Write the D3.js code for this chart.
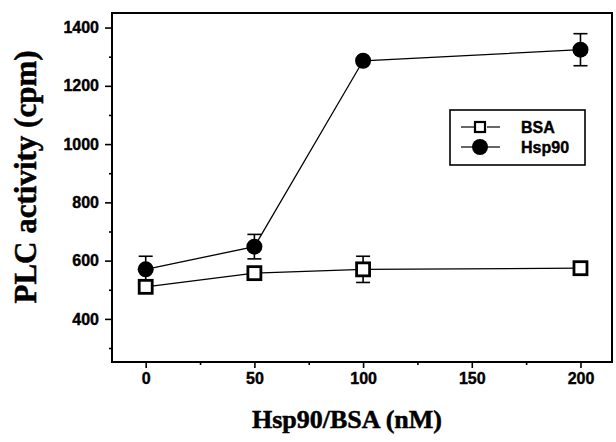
<!DOCTYPE html>
<html>
<head>
<meta charset="utf-8">
<script src="https://cdn.jsdelivr.net/npm/d3@7"></script>
<style>
  body { margin: 0; background: #fff; }
  svg { display: block; }
</style>
</head>
<body>
<svg id="chart" width="616" height="442"></svg>
<script>
const width = 616;
const height = 442;
const margin = { top: 13, right: 4, bottom: 80, left: 112 };

// data
const doses = [0, 50, 100, 200];
const bsaValues = [510, 557, 570, 574];
const bsaErrors = [15, 15, 45, 15];
const hspValues = [570, 648, 1286, 1324];
const hspErrors = [45, 42, 0, 55];
const xTicks = [0, 50, 100, 150, 200];
const xMinorTicks = [25, 75, 125, 175];
const yTicks = [400, 600, 800, 1000, 1200, 1400];
const yMinorTicks = [300, 500, 700, 900, 1100, 1300];
const seriesNames = ["BSA", "Hsp90"];

const sansFont = "'Liberation Sans', Arial, sans-serif";
const serifFont = "'Liberation Serif', 'Times New Roman', serif";

const svg = d3.select("#chart");
const chartWidth = width - margin.left - margin.right;
const chartHeight = height - margin.top - margin.bottom;
const g = svg.append("g").attr("transform", `translate(${margin.left},${margin.top})`);

const x = d3.scaleLinear().domain([-15.5, 214.5]).range([0, chartWidth]);
const y = d3.scaleLinear().domain([252, 1450]).range([chartHeight, 0]);

// axes
const xAxis = g.append("g")
  .attr("transform", `translate(0,${chartHeight})`)
  .call(d3.axisBottom(x).tickValues(xTicks).tickFormat(d3.format("d")).tickSize(6).tickPadding(5));
const xMinor = g.append("g")
  .attr("transform", `translate(0,${chartHeight})`)
  .call(d3.axisBottom(x).tickValues(xMinorTicks).tickSize(3).tickFormat(""));
const yAxis = g.append("g")
  .call(d3.axisLeft(y).tickValues(yTicks).tickFormat(d3.format("d")).tickSize(7).tickPadding(6));
const yMinor = g.append("g")
  .call(d3.axisLeft(y).tickValues(yMinorTicks).tickSize(3).tickFormat(""));

[xAxis, xMinor, yAxis, yMinor].forEach(a => {
  a.select(".domain").remove();
  a.selectAll("line").attr("stroke", "#000").attr("stroke-width", 1.6);
  a.attr("font-family", sansFont).attr("font-size", 16).attr("font-weight", "bold");
  a.selectAll("text").attr("fill", "#000").attr("stroke", "#000").attr("stroke-width", 0.4);
});

// frame
g.append("rect")
  .attr("width", chartWidth).attr("height", chartHeight)
  .attr("fill", "none").attr("stroke", "#000").attr("stroke-width", 2);

// series
const bsa = doses.map((d, i) => ({ x: d, v: bsaValues[i], e: bsaErrors[i] }));
const hsp = doses.map((d, i) => ({ x: d, v: hspValues[i], e: hspErrors[i] }));

const line = d3.line().x(d => x(d.x)).y(d => y(d.v));

[bsa, hsp].forEach(s => {
  g.append("path").datum(s)
    .attr("d", line)
    .attr("fill", "none").attr("stroke", "#000").attr("stroke-width", 1.3);
});

function errorBars(s) {
  const eb = g.append("g").selectAll("g").data(s.filter(d => d.e > 0)).enter().append("g")
    .attr("stroke", "#000").attr("stroke-width", 1.6);
  eb.append("line")
    .attr("x1", d => x(d.x)).attr("x2", d => x(d.x))
    .attr("y1", d => y(d.v + d.e)).attr("y2", d => y(d.v - d.e));
  eb.append("line")
    .attr("x1", d => x(d.x) - 7).attr("x2", d => x(d.x) + 7)
    .attr("y1", d => y(d.v + d.e)).attr("y2", d => y(d.v + d.e));
  eb.append("line")
    .attr("x1", d => x(d.x) - 7).attr("x2", d => x(d.x) + 7)
    .attr("y1", d => y(d.v - d.e)).attr("y2", d => y(d.v - d.e));
}
errorBars(hsp);
errorBars(bsa);

g.selectAll("rect.bsa").data(bsa).enter().append("rect")
  .attr("class", "bsa")
  .attr("x", d => x(d.x) - 6.5).attr("y", d => y(d.v) - 6.5)
  .attr("width", 13).attr("height", 13)
  .attr("fill", "#fff").attr("stroke", "#000").attr("stroke-width", 2.8);

g.selectAll("circle.hsp").data(hsp).enter().append("circle")
  .attr("class", "hsp")
  .attr("cx", d => x(d.x)).attr("cy", d => y(d.v))
  .attr("r", 8).attr("fill", "#000");

// legend
const legend = svg.append("g").attr("transform", "translate(450,110)");
legend.append("rect")
  .attr("width", 135).attr("height", 55)
  .attr("fill", "#fff").attr("stroke", "#000").attr("stroke-width", 1.6);
const items = legend.selectAll("g.item").data(seriesNames).enter().append("g")
  .attr("class", "item")
  .attr("transform", (d, i) => `translate(0,${17 + i * 20})`);
items.append("line").attr("x1", 11).attr("x2", 24).attr("stroke", "#000").attr("stroke-width", 1.2);
items.append("line").attr("x1", 37).attr("x2", 50).attr("stroke", "#000").attr("stroke-width", 1.2);
items.filter(d => d === "BSA").append("rect")
  .attr("x", 25).attr("y", -5).attr("width", 10).attr("height", 10)
  .attr("fill", "#fff").attr("stroke", "#000").attr("stroke-width", 2.2);
items.filter(d => d === "Hsp90").append("circle")
  .attr("cx", 30).attr("r", 8).attr("fill", "#000");
items.append("text")
  .attr("font-family", sansFont).attr("font-size", 16).attr("font-weight", "bold")
  .attr("stroke", "#000").attr("stroke-width", 0.4)
  .attr("x", 71).attr("dy", "0.35em")
  .text(d => d);

// axis titles
svg.append("text")
  .attr("font-family", serifFont).attr("font-weight", "bold")
  .attr("font-size", 26)
  .attr("stroke", "#000").attr("stroke-width", 0.5)
  .attr("text-anchor", "middle")
  .attr("x", 347).attr("y", 428)
  .text("Hsp90/BSA (nM)");

svg.append("text")
  .attr("font-family", serifFont).attr("font-weight", "bold")
  .attr("font-size", 31)
  .attr("stroke", "#000").attr("stroke-width", 0.5)
  .attr("text-anchor", "middle")
  .attr("transform", "translate(36,177) rotate(-90)")
  .text("PLC activity (cpm)");
</script>
</body>
</html>
